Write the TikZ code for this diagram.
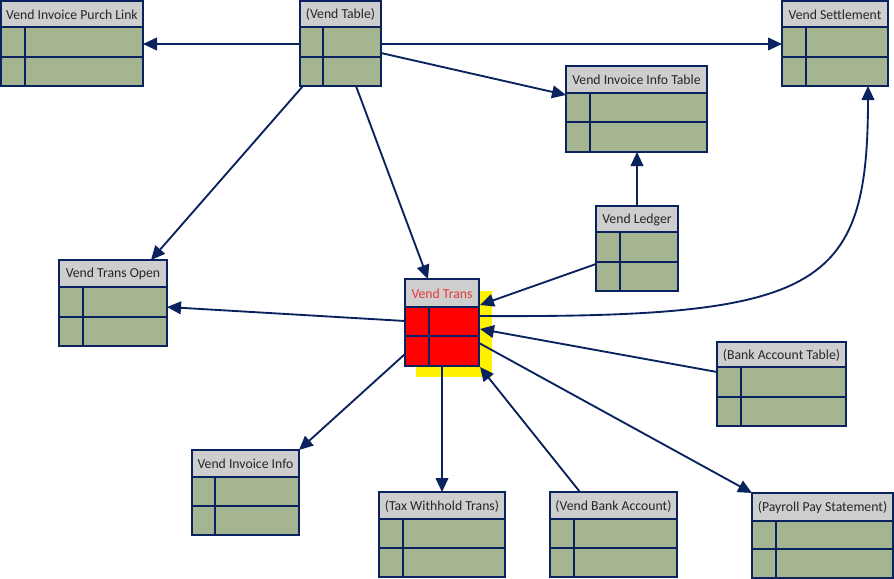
\documentclass[tikz,border=0pt]{standalone}
\usepackage{fontspec}
\setmainfont{Carlito}
\usetikzlibrary{arrows.meta,calc}
\definecolor{navy}{HTML}{0A235E}
\definecolor{bodygreen}{HTML}{A5B592}
\definecolor{headgray}{HTML}{CECECE}
\definecolor{txtgray}{HTML}{262626}
\definecolor{trred}{HTML}{E8383A}
\tikzset{
  tbody/.style={fill=bodygreen},
  thead/.style={fill=headgray},
  tline/.style={draw=navy, line width=1pt},
  tframe/.style={draw=navy, line width=1pt, inner sep=0pt, outer sep=0pt, rectangle},
  ttext/.style={text=txtgray, font=\fontsize{10.3}{12}\selectfont, inner sep=0pt},
  conn/.style={draw=navy, line width=1.4pt, -{Triangle[length=10.5pt,width=9.5pt]}},
}
% #1 name, #2 x1, #3 y1, #4 x2, #5 y2, #6 header bottom, #7 row split, #8 divider x, #9 label
\newcommand\tbox[9]{%
  \fill[tbody] (#2,#6) rectangle (#4,#5);
  \fill[thead] (#2,#3) rectangle (#4,#6);
  \draw[tline] (#2,#6) -- (#4,#6) (#2,#7) -- (#4,#7) (#8,#6) -- (#8,#5);
  \node[tframe, minimum width={(#4-#2)*0.75pt}, minimum height={(#5-#3)*0.75pt}] (#1) at ({(#2+#4)/2},{(#3+#5)/2}) {};
  \node[ttext] (#1-t) at ({(#2+#4)/2},{(#3+#6)/2+0.5}) {#9};
}
\begin{document}
\begin{tikzpicture}[x=0.75pt,y=-0.75pt]
\useasboundingbox (0,0) rectangle (894,579);
\fill[white] (0,0) rectangle (894,579);

% yellow shadow of Vend Trans
\fill[yellow] (416,291) rectangle (492,377);

\tbox{pl}{1}{1}{143}{86}{27}{57}{25}{Vend Invoice Purch Link}
\tbox{vtab}{300}{1}{381}{86}{27}{57}{323}{(Vend Table)}
\tbox{vset}{782}{1}{888}{86}{27}{57}{806}{Vend Settlement}
\tbox{vinft}{566}{66}{707}{152}{93}{122}{590}{Vend Invoice Info Table}
\tbox{vled}{596}{206}{678}{291}{232}{262}{620}{Vend Ledger}
\tbox{vto}{59}{260}{167}{346}{287}{317}{83}{Vend Trans Open}
\begin{scope}[tbody/.style={fill=red}, ttext/.append style={text=trred}]
\tbox{vt}{405}{279}{479}{366}{307}{336}{429}{Vend Trans}
\end{scope}
\tbox{bat}{717}{342}{846}{426}{367}{397}{741}{(Bank Account Table)}
\tbox{vii}{192}{450}{299}{535}{477}{506}{215}{Vend Invoice Info}
\tbox{twt}{379}{492}{505}{577}{519}{548}{403}{(Tax Withhold Trans)}
\tbox{vba}{550}{492}{677}{577}{519}{548}{574}{(Vend Bank Account)}
\tbox{pps}{752}{493}{893}{578}{521}{549}{776}{(Payroll Pay Statement)}

% connectors
\draw[conn] ($(vtab.west)+(0,0.5)$) -- ($(pl.east)+(0,0.5)$);
\draw[conn] ($(vtab.east)+(0,0.5)$) -- ($(vset.west)+(0,0.5)$);
\draw[conn] ($(vtab.north west)+(81,52)$) -- ($(vinft.north west)+(0,29)$);
\draw[conn] ($(vtab.north west)+(3,85)$) -- ($(vto.north west)+(92,0)$);
\draw[conn] ($(vtab.north west)+(56,85)$) -- ($(vt.north west)+(23,0)$);
\draw[conn] (vled.north) -- (vled.north |- vinft.south);
\draw[conn] ($(vled.north west)+(0,58)$) -- ($(vt.north west)+(75,26)$);
\draw[conn] ($(vt.north west)+(74,37)$) .. controls ($(vt.north west)+(415,39)$) and ($(vset.north west)+(86,289)$) .. ($(vset.north west)+(86,85)$);
\draw[conn] ($(vt.north west)+(0,42)$) -- ($(vto.north west)+(108,47)$);
\draw[conn] ($(bat.north west)+(0,30)$) -- ($(vt.north west)+(75,50)$);
\draw[conn] ($(vt.north west)+(0,75)$) -- (vii.north east);
\draw[conn] (vt.south) -- (vt.south |- twt.north);
\draw[conn] ($(vba.north west)+(30,0)$) -- ($(vt.south east)+(1,1)$);
\draw[conn] ($(vt.north west)+(74,64)$) -- (pps.north west);
\end{tikzpicture}
\end{document}
